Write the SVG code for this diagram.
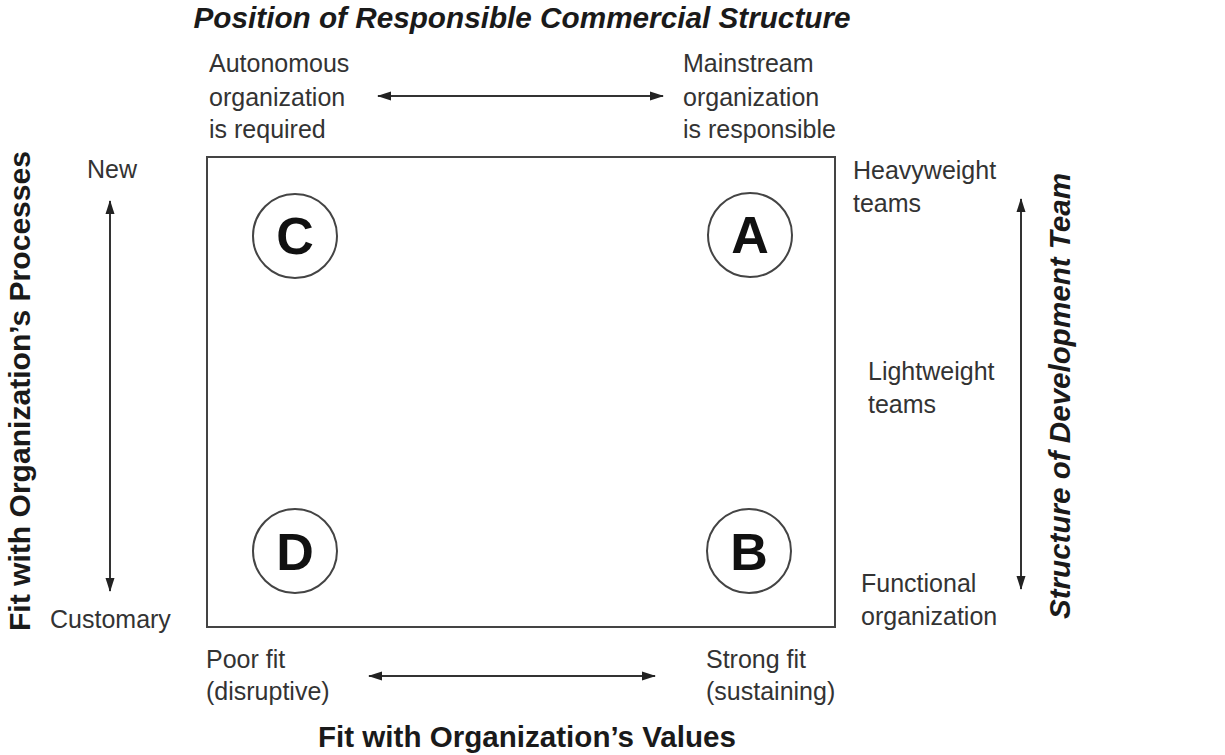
<svg xmlns="http://www.w3.org/2000/svg" width="1225" height="755" viewBox="0 0 1225 755">
<defs>
<style>
.lbl{font-family:"Liberation Sans",Arial,sans-serif;font-size:25px;fill:#333}
.ttl{font-family:"Liberation Sans",Arial,sans-serif;font-size:29px;font-weight:bold;fill:#1a1a1a}
.it{font-style:italic}
.ltr{font-family:"Liberation Sans",Arial,sans-serif;font-size:52px;font-weight:bold;fill:#111;text-anchor:middle}
.circ{fill:#fff;stroke:#444;stroke-width:2}
.ax{stroke:#333;stroke-width:2;fill:none}
</style>
<marker id="ah" viewBox="0 0 14 10" refX="13" refY="5" markerWidth="14" markerHeight="10" orient="auto-start-reverse" markerUnits="userSpaceOnUse">
<path d="M0,0.5 L14,5 L0,9.5 Z" fill="#222"/>
</marker>
</defs>
<rect width="1225" height="755" fill="#fff"/>
<g id="frame"><rect x="207" y="157" width="628" height="470" fill="none" stroke="#444" stroke-width="2"/></g>
<g id="nodeC"><circle class="circ" cx="295" cy="236" r="42"/><text class="ltr" x="295" y="254">C</text></g>
<g id="nodeA"><circle class="circ" cx="750" cy="235" r="42"/><text class="ltr" x="750" y="253">A</text></g>
<g id="nodeD"><circle class="circ" cx="295" cy="551" r="42"/><text class="ltr" x="295" y="570">D</text></g>
<g id="nodeB"><circle class="circ" cx="749" cy="551" r="42"/><text class="ltr" x="749" y="570">B</text></g>
<g id="connectors">
<line class="ax" x1="378" y1="96" x2="663" y2="96" marker-start="url(#ah)" marker-end="url(#ah)"/>
<line class="ax" x1="110" y1="201" x2="110" y2="591" marker-start="url(#ah)" marker-end="url(#ah)"/>
<line class="ax" x1="1021" y1="199" x2="1021" y2="589" marker-start="url(#ah)" marker-end="url(#ah)"/>
<line class="ax" x1="369" y1="676" x2="655" y2="676" marker-start="url(#ah)" marker-end="url(#ah)"/>
</g>
<g id="top-title"><text class="ttl it" x="522" y="28" text-anchor="middle" textLength="657" lengthAdjust="spacingAndGlyphs">Position of Responsible Commercial Structure</text></g>
<g id="top-left"><text class="lbl" x="209" y="72">Autonomous</text><text class="lbl" x="209" y="106">organization</text><text class="lbl" x="209" y="138">is required</text></g>
<g id="top-right"><text class="lbl" x="683" y="72">Mainstream</text><text class="lbl" x="683" y="106">organization</text><text class="lbl" x="683" y="138">is responsible</text></g>
<g id="left-labels"><text class="lbl" x="87" y="178">New</text><text class="lbl" x="50" y="628">Customary</text></g>
<g id="left-title"><text class="ttl" transform="translate(30,391) rotate(-90)" text-anchor="middle" textLength="480" lengthAdjust="spacingAndGlyphs">Fit with Organization’s Processes</text></g>
<g id="right-labels">
<text class="lbl" x="853" y="179">Heavyweight</text><text class="lbl" x="853" y="212">teams</text>
<text class="lbl" x="868" y="380">Lightweight</text><text class="lbl" x="868" y="413">teams</text>
<text class="lbl" x="861" y="592">Functional</text><text class="lbl" x="861" y="625">organization</text>
</g>
<g id="right-title"><text class="ttl it" transform="translate(1070,396) rotate(-90)" text-anchor="middle" textLength="446" lengthAdjust="spacingAndGlyphs">Structure of Development Team</text></g>
<g id="bottom-labels">
<text class="lbl" x="206" y="668">Poor fit</text><text class="lbl" x="206" y="700">(disruptive)</text>
<text class="lbl" x="706" y="668">Strong fit</text><text class="lbl" x="706" y="700">(sustaining)</text>
</g>
<g id="bottom-title"><text class="ttl" x="527" y="747" text-anchor="middle" textLength="418" lengthAdjust="spacingAndGlyphs">Fit with Organization’s Values</text></g>
</svg>
